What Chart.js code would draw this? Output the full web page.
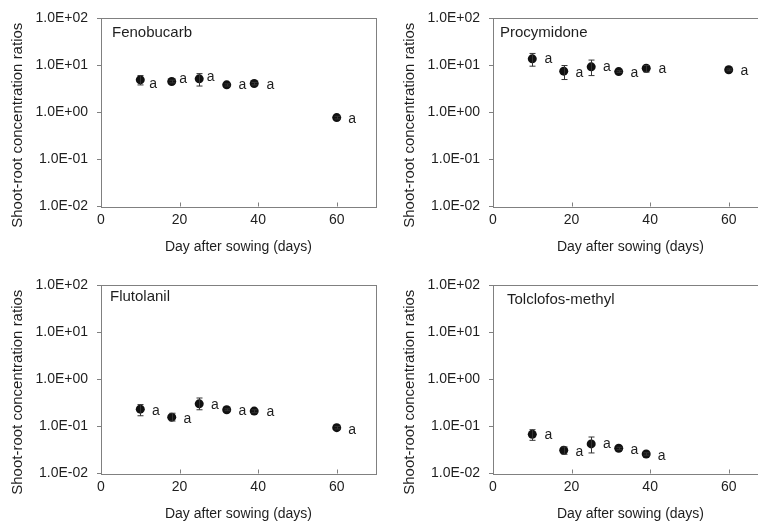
<!DOCTYPE html>
<html>
<head>
<meta charset="utf-8">
<script src="https://cdn.jsdelivr.net/npm/chart.js@4.4.0/dist/chart.umd.min.js"></script>
<style>
html, body { margin: 0; padding: 0; background: #fff; overflow: hidden; width: 758px; height: 521px; }
.panel { position: absolute; width: 400px; height: 260px; }
</style>
</head>
<body>
<div class="panel" style="left:0;top:0"><canvas id="fenobucarbChart" width="400" height="260"></canvas></div>
<div class="panel" style="left:392px;top:0"><canvas id="procymidoneChart" width="400" height="260"></canvas></div>
<div class="panel" style="left:0;top:267px"><canvas id="flutolanilChart" width="400" height="260"></canvas></div>
<div class="panel" style="left:392px;top:267px"><canvas id="tolclofosChart" width="400" height="260"></canvas></div>
<script>
// sampling days
const days = [10, 18, 25, 32, 39, 60];
const xTicks = [0, 20, 40, 60];
const yTicks = [0.01, 0.1, 1, 10, 100];
const yTickLabels = ['1.0E-02', '1.0E-01', '1.0E+00', '1.0E+01', '1.0E+02'];

// Fenobucarb
const fenobucarb = [4.87, 4.49, 5.12, 3.81, 4.07, 0.77];
const fenobucarbLo = [3.8, 4.2, 3.6, 3.6, 3.8, 0.72];
const fenobucarbHi = [6.0, 4.8, 6.6, 4.0, 4.3, 0.82];
const fenobucarbLetters = ['a', 'a', 'a', 'a', 'a', 'a'];
const fenobucarbLetterX = [13.3, 20.9, 27.9, 36.0, 43.1, 63.9];
const fenobucarbLetterY = [3.88, 4.96, 5.47, 3.81, 3.81, 0.72];

// Procymidone
const procymidone = [13.6, 7.45, 9.2, 7.3, 8.6, 7.96];
const procymidoneLo = [9.5, 4.95, 6.0, 7.0, 7.1, 7.6];
const procymidoneHi = [17.7, 9.8, 12.8, 7.6, 9.8, 8.3];
const procymidoneLetters = ['a', 'a', 'a', 'a', 'a', 'a'];
const procymidoneLetterX = [14.1, 22.0, 29.0, 36.0, 43.1, 64.0];
const procymidoneLetterY = [13.2, 6.87, 8.9, 6.87, 8.1, 7.45];

// Flutolanil
const flutolanil = [0.232, 0.157, 0.301, 0.225, 0.211, 0.094];
const flutolanilLo = [0.168, 0.13, 0.225, 0.215, 0.195, 0.088];
const flutolanilHi = [0.29, 0.19, 0.40, 0.235, 0.225, 0.10];
const flutolanilLetters = ['a', 'a', 'a', 'a', 'a', 'a'];
const flutolanilLetterX = [14.0, 22.0, 29.0, 36.0, 43.1, 63.9];
const flutolanilLetterY = [0.211, 0.143, 0.287, 0.211, 0.201, 0.085];

// Tolclofos-methyl (no day 60 sample)
const tolclofos = [0.0678, 0.0311, 0.0424, 0.0343, 0.026];
const tolclofosLo = [0.0506, 0.0256, 0.0273, 0.032, 0.0245];
const tolclofosHi = [0.085, 0.0366, 0.0595, 0.036, 0.0275];
const tolclofosLetters = ['a', 'a', 'a', 'a', 'a'];
const tolclofosLetterX = [14.1, 22.0, 29.0, 36.0, 42.9];
const tolclofosLetterY = [0.0636, 0.0282, 0.041, 0.0316, 0.0232];

const FONT = "'Liberation Sans', Arial, sans-serif";
const TEXT = '#1e1e1e';
const AXIS = '#808080';

const panelDecor = {
    id: 'panelDecor',
    afterDatasetsDraw(chart, args, opts) {
        const ctx = chart.ctx;
        const a = chart.chartArea;
        const xs = chart.scales.x, ys = chart.scales.y;
        ctx.save();

        // error bars
        const ds = chart.data.datasets[0];
        ctx.strokeStyle = '#333';
        ctx.lineWidth = 1;
        ds.data.forEach((p, i) => {
            const px = Math.round(xs.getPixelForValue(p.x)) + 0.5;
            const top = ys.getPixelForValue(opts.hi[i]);
            const bot = ys.getPixelForValue(opts.lo[i]);
            ctx.beginPath();
            ctx.moveTo(px, top); ctx.lineTo(px, bot);
            ctx.moveTo(px - 3, top); ctx.lineTo(px + 3, top);
            ctx.moveTo(px - 3, bot); ctx.lineTo(px + 3, bot);
            ctx.stroke();
        });

        // plot box
        ctx.strokeStyle = AXIS;
        ctx.strokeRect(Math.round(a.left) + 0.5, Math.round(a.top) + 0.5, Math.round(a.width), Math.round(a.height));

        // inward x tick marks
        xTicks.forEach(v => {
            const px = Math.round(xs.getPixelForValue(v)) + 0.5;
            ctx.beginPath();
            ctx.moveTo(px, a.bottom); ctx.lineTo(px, a.bottom - 4);
            ctx.stroke();
        });

        // significance letters
        ctx.fillStyle = TEXT;
        ctx.font = '14px ' + FONT;
        ctx.textAlign = 'center';
        ctx.textBaseline = 'middle';
        opts.letters.forEach((t, i) => {
            ctx.fillText(t, xs.getPixelForValue(opts.letterX[i]), ys.getPixelForValue(opts.letterY[i]));
        });

        // compound name
        ctx.font = '15px ' + FONT;
        ctx.textAlign = 'left';
        ctx.fillText(opts.name, a.left + opts.nameDx, a.top + opts.nameDy);

        // axis titles
        ctx.font = '14px ' + FONT;
        ctx.textAlign = 'center';
        ctx.fillText('Day after sowing (days)', (a.left + a.right) / 2, a.bottom + 41);
        ctx.translate(18, (a.top + a.bottom) / 2 + 13);
        ctx.rotate(-Math.PI / 2);
        ctx.font = '15px ' + FONT;
        ctx.fillText('Shoot-root concentration ratios', 0, 0);
        ctx.restore();
    }
};

function makePanel(id, name, nameDx, nameDy, values, lo, hi, letters, letterX, letterY) {
    const ctx = document.getElementById(id).getContext('2d');
    new Chart(ctx, {
        type: 'scatter',
        data: {
            datasets: [{
                data: values.map((v, i) => ({ x: days[i], y: v })),
                backgroundColor: '#111',
                borderWidth: 0,
                pointRadius: 4.5,
                pointHoverRadius: 4.5
            }]
        },
        plugins: [panelDecor],
        options: {
            responsive: false,
            animation: false,
            layout: { padding: { top: 18, left: 0, right: 24, bottom: 0 } },
            plugins: {
                legend: { display: false },
                tooltip: { enabled: false },
                panelDecor: { name, nameDx, nameDy, lo, hi, letters, letterX, letterY }
            },
            scales: {
                x: {
                    type: 'linear',
                    min: 0,
                    max: 70,
                    afterFit: s => { s.height = 53.5; },
                    afterBuildTicks: s => { s.ticks = xTicks.map(v => ({ value: v })); },
                    border: { display: false },
                    grid: { display: false, drawTicks: false },
                    ticks: { color: TEXT, font: { family: FONT, size: 14 }, padding: 5, maxRotation: 0 }
                },
                y: {
                    type: 'logarithmic',
                    min: 0.01,
                    max: 100,
                    afterFit: s => { s.width = 101; },
                    afterBuildTicks: s => { s.ticks = yTicks.map(v => ({ value: v })); },
                    border: { display: false },
                    grid: { drawOnChartArea: false, drawTicks: true, tickLength: 4, color: AXIS },
                    ticks: {
                        color: TEXT,
                        font: { family: FONT, size: 14 },
                        padding: 9,
                        callback: v => yTickLabels[yTicks.indexOf(v)]
                    }
                }
            }
        }
    });
}

makePanel('fenobucarbChart', 'Fenobucarb', 11, 15, fenobucarb, fenobucarbLo, fenobucarbHi,
    fenobucarbLetters, fenobucarbLetterX, fenobucarbLetterY);
makePanel('procymidoneChart', 'Procymidone', 7, 15, procymidone, procymidoneLo, procymidoneHi,
    procymidoneLetters, procymidoneLetterX, procymidoneLetterY);
makePanel('flutolanilChart', 'Flutolanil', 9, 12, flutolanil, flutolanilLo, flutolanilHi,
    flutolanilLetters, flutolanilLetterX, flutolanilLetterY);
makePanel('tolclofosChart', 'Tolclofos-methyl', 14, 15, tolclofos, tolclofosLo, tolclofosHi,
    tolclofosLetters, tolclofosLetterX, tolclofosLetterY);
</script>
</body>
</html>
